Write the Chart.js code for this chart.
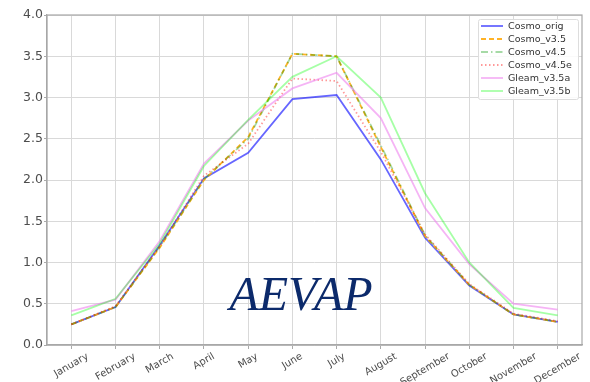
<!DOCTYPE html>
<html>
<head>
<meta charset="utf-8">
<script src="https://cdn.jsdelivr.net/npm/chart.js@4/dist/chart.umd.min.js"></script>
<style>
html,body{margin:0;padding:0;background:#fff;}
#wrap{position:relative;width:590px;height:382px;}
</style>
</head>
<body>
<div id="wrap"><canvas id="c" width="590" height="382"></canvas></div>
<script>
const months = ["January","February","March","April","May","June","July","August","September","October","November","December"];
const yTicks = [0.0,0.5,1.0,1.5,2.0,2.5,3.0,3.5,4.0];
const cosmoOrig  = [0.25,0.46,1.21,2.02,2.33,2.98,3.03,2.25,1.30,0.72,0.37,0.28];
const cosmoV35   = [0.25,0.46,1.18,2.00,2.52,3.53,3.50,2.40,1.32,0.73,0.37,0.28];
const cosmoV45   = [0.25,0.46,1.19,2.01,2.50,3.53,3.50,2.42,1.33,0.73,0.37,0.28];
const cosmoV45e  = [0.25,0.47,1.20,2.05,2.44,3.23,3.20,2.34,1.34,0.74,0.38,0.29];
const gleamV35a  = [0.41,0.55,1.26,2.20,2.72,3.11,3.30,2.75,1.66,0.98,0.50,0.43];
const gleamV35b  = [0.36,0.56,1.23,2.17,2.73,3.25,3.50,3.00,1.84,1.00,0.45,0.36];
const seriesNames = ["Cosmo_orig","Cosmo_v3.5","Cosmo_v4.5","Cosmo_v4.5e","Gleam_v3.5a","Gleam_v3.5b"];
const overlayText = "AEVAP";

const seriesValues = [cosmoOrig,cosmoV35,cosmoV45,cosmoV45e,gleamV35a,gleamV35b];
const styles = [
  {color:'rgba(0,0,255,0.6)', dash:[]},
  {color:'rgba(255,165,0,0.85)', dash:[5,3]},
  {color:'rgba(0,150,0,0.35)', dash:[7,3,1.5,3]},
  {color:'rgba(255,0,0,0.4)', dash:[1.5,2.5]},
  {color:'rgba(238,130,238,0.6)', dash:[]},
  {color:'rgba(0,255,0,0.35)', dash:[]}
];

const datasets = seriesValues.map((vals,k)=>({
  label: seriesNames[k],
  data: vals.map((v,i)=>({x:i,y:v})),
  borderColor: styles[k].color,
  borderDash: styles[k].dash,
  borderWidth: 1.8,
  pointRadius: 0,
  fill: false,
  tension: 0,
  order: seriesValues.length - k
}));

const extras = {
  id: 'extras',
  afterDraw(chart){
    const ctx = chart.ctx;
    const xs = chart.scales.x;
    const area = chart.chartArea;
    // full frame
    ctx.save();
    ctx.strokeStyle = '#a8a8a8';
    ctx.lineWidth = 1.2;
    ctx.strokeRect(area.left, area.top, area.right-area.left, area.bottom-area.top);
    ctx.restore();
    // x tick labels, rotated 30deg, centred (matplotlib style)
    ctx.save();
    ctx.font = '10px "DejaVu Sans"';
    ctx.fillStyle = '#4d4d4d';
    ctx.textAlign = 'center';
    ctx.textBaseline = 'middle';
    const ang = 30*Math.PI/180;
    months.forEach((m,i)=>{
      const w = ctx.measureText(m).width;
      const h = 11;
      const bh = w*Math.sin(ang) + h*Math.cos(ang);
      const px = xs.getPixelForValue(i);
      const py = area.bottom + 6 + bh/2;
      ctx.save();
      ctx.translate(px, py);
      ctx.rotate(-ang);
      ctx.fillText(m, 0, 0);
      ctx.restore();
    });
    ctx.restore();

    // overlay title text
    ctx.save();
    ctx.font = 'italic 48px "Liberation Serif"';
    ctx.fillStyle = '#0c2a6b';
    ctx.textAlign = 'center';
    ctx.textBaseline = 'alphabetic';
    ctx.fillText(overlayText, 301, 310);
    ctx.restore();

    // legend (upper right, inside axes)
    ctx.save();
    const bx = 478, by = 19, bw = 100, bhh = 80;
    ctx.fillStyle = 'rgba(255,255,255,0.85)';
    ctx.strokeStyle = '#dddddd';
    ctx.lineWidth = 1;
    ctx.beginPath();
    if (ctx.roundRect) ctx.roundRect(bx+0.5, by+0.5, bw, bhh, 2); else ctx.rect(bx+0.5,by+0.5,bw,bhh);
    ctx.fill(); ctx.stroke();
    ctx.font = '9.5px "DejaVu Sans"';
    ctx.textAlign = 'left';
    ctx.textBaseline = 'middle';
    chart.data.datasets.forEach((ds,k)=>{
      const y = 26 + 13*k;
      ctx.strokeStyle = ds.borderColor;
      ctx.lineWidth = 1.8;
      ctx.setLineDash(ds.borderDash);
      ctx.beginPath();
      ctx.moveTo(481, y); ctx.lineTo(503, y);
      ctx.stroke();
      ctx.setLineDash([]);
      ctx.fillStyle = '#333333';
      ctx.fillText(ds.label, 508, y+0.5);
    });
    ctx.restore();
  }
};

new Chart(document.getElementById('c'), {
  type: 'line',
  data: { datasets },
  options: {
    responsive: false,
    animation: false,
    devicePixelRatio: 1,
    layout: { padding: { top: 15, right: 8, left: 0, bottom: 0 } },
    plugins: { legend: { display: false }, title: { display: false }, tooltip: { enabled: false } },
    scales: {
      x: {
        type: 'linear',
        min: -0.55,
        max: months.length - 1 + 0.55,
        afterBuildTicks: (s)=>{ s.ticks = months.map((m,i)=>({value:i})); },
        afterFit: (s)=>{ s.height = 37; },
        ticks: { display: false },
        grid: { color: '#d9d9d9', lineWidth: 1, drawTicks: true, tickLength: 4, tickColor: '#aaaaaa' },
        border: { color: '#a8a8a8', width: 1.2 }
      },
      y: {
        min: 0, max: 4,
        afterBuildTicks: (s)=>{ s.ticks = yTicks.map(v=>({value:v})); },
        afterFit: (s)=>{ s.width = 47; },
        ticks: {
          font: { family: 'DejaVu Sans', size: 12.5 },
          color: '#4d4d4d',
          padding: 1,
          callback: (v)=>Number(v).toFixed(1)
        },
        grid: { color: '#d9d9d9', lineWidth: 1, drawTicks: true, tickLength: 3, tickColor: '#aaaaaa' },
        border: { color: '#a8a8a8', width: 1.2 }
      }
    }
  },
  plugins: [extras]
});
</script>
</body>
</html>
